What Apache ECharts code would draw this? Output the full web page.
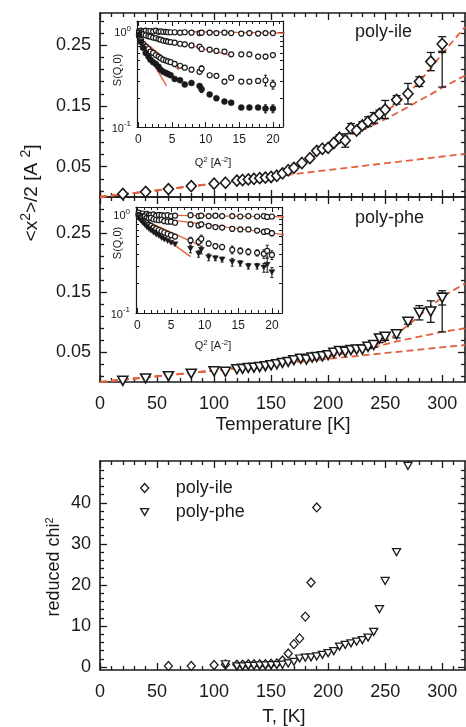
<!DOCTYPE html>
<html>
<head>
<meta charset="utf-8">
<script src="https://cdn.jsdelivr.net/npm/echarts@6.0.0/dist/echarts.min.js"></script>
<style>
html,body{margin:0;padding:0;background:#ffffff;}
#chart{width:466px;height:727px;}
</style>
</head>
<body>
<div id="chart"></div>
<script>
// ================= DATA =================
// tick values
const tempTicks = [0,50,100,150,200,250,300];
const tempMinor = [10,20,30,40,60,70,80,90,110,120,130,140,160,170,180,190,210,220,230,240,260,270,280,290,310];
const msdTicks = [0.05,0.15,0.25];
const msdMinor = [0.01,0.03,0.07,0.09,0.11,0.13,0.17,0.19,0.21,0.23,0.27,0.29];
const chiTicks = [0,10,20,30,40];
const chiMinor = [2,4,6,8,12,14,16,18,22,24,26,28,32,34,36,38,42,44,46,48];
const q2Ticks = [0,5,10,15,20];
const q2Minor = [1,2,3,4,6,7,8,9,11,12,13,14,16,17,18,19,21];
const sDecades = [0.1,1];
const sMinor = [0.2,0.3,0.4,0.5,0.6,0.7,0.8,0.9];

// poly-ile  <x^2>/2 vs T
const T_ile   = [20,40,60,80,100,110,120,125,130,135,140,145,150,155,160,165,170,177,184,190,195,200,205,210,215,220,225,230,235,240,245,250,260,270,280,290,300];
const msd_ile = [0.005,0.0085,0.013,0.018,0.022,0.0235,0.027,0.028,0.029,0.030,0.031,0.032,0.033,0.035,0.039,0.044,0.048,0.056,0.064,0.076,0.0795,0.081,0.089,0.0975,0.093,0.113,0.1095,0.118,0.124,0.130,0.137,0.144,0.160,0.170,0.190,0.223,0.252];
const err_ile = [0,0,0,0,0,0,0,0,0,0,0,0,0,0,0,0,0,0,0,0.003,0.003,0.003,0.003,0.005,0.011,0.008,0.005,0.006,0.008,0.009,0.006,0.015,0.007,0.017,0.008,0.015,0.012];
// poly-phe  <x^2>/2 vs T
const T_phe   = [20,40,60,80,100,110,120,125,130,135,140,145,150,155,160,165,170,176,181,186,190,195,200,205,210,215,220,225,230,235,240,245,250,260,270,280,290,300];
const msd_phe = [0.002,0.006,0.0097,0.014,0.018,0.017,0.0214,0.022,0.0236,0.024,0.025,0.0265,0.028,0.0298,0.032,0.0337,0.0366,0.039,0.0377,0.041,0.042,0.043,0.045,0.049,0.052,0.0505,0.0534,0.0545,0.0545,0.059,0.062,0.073,0.0757,0.080,0.101,0.116,0.118,0.141];
const err_phe = [0,0,0,0,0,0,0,0,0,0,0,0,0,0,0,0,0,0,0,0,0,0,0,0,0,0,0,0,0,0.003,0.004,0.007,0.006,0.006,0.004,0.012,0.018,0.012];

// fit curves (dashed)
const fitT_ile_a = [0,50,100,150,160,170,180,190,200,210,220,230,240,250,260,270,280,290,300,310,320];
const fit_ile_a  = [0,0.011,0.022,0.034,0.039,0.046,0.057,0.070,0.083,0.095,0.106,0.117,0.128,0.140,0.154,0.170,0.190,0.212,0.236,0.258,0.280];
const fitT_ile_b = [0,50,100,150,160,170,180,190,200,210,220,230,240,250,260,270,280,290,300,310,320];
const fit_ile_b  = [0,0.011,0.022,0.034,0.039,0.046,0.057,0.070,0.083,0.093,0.102,0.111,0.119,0.128,0.138,0.148,0.159,0.169,0.180,0.190,0.200];
const fitT_ile_c = [0,320];
const fit_ile_c  = [0,0.071];
const fitT_phe_a = [0,50,100,150,200,220,240,250,260,270,280,290,300,310,320];
const fit_phe_a  = [0,0.0095,0.019,0.029,0.043,0.051,0.061,0.069,0.080,0.095,0.111,0.127,0.142,0.154,0.165];
const fitT_phe_b = [0,50,100,150,200,220,240,250,260,270,280,290,300,310,320];
const fit_phe_b  = [0,0.0095,0.019,0.029,0.043,0.050,0.058,0.063,0.068,0.072,0.076,0.080,0.084,0.087,0.090];
const fitT_phe_c = [0,320];
const fit_phe_c  = [0,0.062];
// spread bars at 300 K : [T, low, high]
const spread_ile = [300,0.181,0.238];
const spread_phe = [300,0.084,0.149];

// inset poly-ile S(Q,0) vs Q^2
const Q2_ile = [0.1,0.4,0.7,1.1,1.5,1.8,2.2,2.6,3.0,3.3,3.7,4.1,4.4,4.8,5.4,6.2,6.9,7.9,9.1,9.4,10.6,11.6,12.8,13.8,15.3,16.5,17.8,18.9,20.0];
const S_ile1 = [1.02,1.03,1.01,1.03,1.02,1.02,1.01,1.03,1.00,1.01,1.00,1.00,0.99,0.99,0.99,0.98,0.99,0.98,0.97,0.98,0.98,0.97,0.98,0.97,0.96,0.97,0.96,0.97,0.97];
const S_ile2 = [0.98,0.96,0.94,0.92,0.90,0.89,0.87,0.86,0.84,0.83,0.81,0.80,0.79,0.78,0.77,0.75,0.74,0.72,0.70,0.66,0.65,0.63,0.62,0.58,0.58,0.58,0.55,0.55,0.57];
const S_ile3 = [0.90,0.82,0.75,0.70,0.66,0.62,0.60,0.57,0.55,0.53,0.51,0.50,0.49,0.48,0.46,0.44,0.42,0.40,0.38,0.41,0.35,0.345,0.30,0.33,0.30,0.30,0.305,0.31,0.28];
const S_ile4 = [0.93,0.78,0.68,0.60,0.55,0.51,0.48,0.46,0.43,0.40,0.38,0.37,0.36,0.35,0.32,0.31,0.28,0.29,0.27,0.25,0.22,0.20,0.185,0.18,0.16,0.16,0.16,0.156,0.156];
const eS_ile2 = [0,0,0,0,0,0,0,0,0,0,0,0,0,0,0,0,0,0,0,0,0,0,0,0,0,0,0,0.03,0];
const eS_ile3 = [0,0,0,0,0,0,0,0,0,0,0,0,0,0,0,0,0,0,0,0.03,0,0,0,0,0,0,0,0.04,0.03];
const eS_ile4 = [0,0,0,0,0,0,0,0,0,0,0,0,0,0,0,0,0,0,0,0.02,0,0,0,0,0,0,0,0.015,0.015];
const fitQ_ile = [[0,22],[0,14],[0,6],[0,4.2]];
const fitS_ile = [[1.02,0.97],[0.98,0.56],[0.88,0.40],[0.85,0.27]];

// inset poly-phe S(Q,0) vs Q^2
const Q2_phe = [0.2,0.5,0.8,1.1,1.4,1.7,2.0,2.4,2.8,3.2,3.6,4.0,4.5,5.0,5.6,7.9,9.1,9.5,10.6,11.6,12.6,14.1,15.3,16.5,17.8,18.8,19.3,20.0];
const S_phe1 = [1.05,1.0,1.03,0.98,1.02,0.99,1.0,1.01,0.98,1.0,0.99,0.98,0.99,0.97,0.98,0.99,0.97,0.98,0.97,0.98,0.97,0.97,0.96,0.97,0.96,0.97,0.95,0.96];
const S_phe2 = [1.0,0.97,0.95,0.96,0.93,0.92,0.93,0.9,0.89,0.88,0.89,0.86,0.85,0.85,0.83,0.80,0.78,0.80,0.77,0.75,0.74,0.72,0.71,0.71,0.69,0.67,0.68,0.65];
const S_phe3 = [0.98,0.92,0.88,0.85,0.82,0.79,0.77,0.74,0.72,0.70,0.68,0.66,0.64,0.62,0.60,0.55,0.53,0.57,0.51,0.48,0.47,0.44,0.43,0.42,0.41,0.40,0.43,0.39];
const S_phe4 = [0.95,0.88,0.83,0.79,0.75,0.72,0.69,0.66,0.63,0.61,0.58,0.56,0.54,0.52,0.50,0.45,0.40,0.44,0.37,0.36,0.35,0.33,0.32,0.30,0.30,0.29,0.31,0.26];
const eS_phe1 = [0,0,0,0,0,0,0,0,0,0,0,0,0,0,0,0.03,0.03,0.03,0.03,0.03,0.03,0.03,0.03,0.03,0.03,0.04,0.04,0.04];
const eS_phe2 = [0,0,0,0,0,0,0,0,0,0,0,0,0,0,0,0.04,0.04,0.04,0.03,0.03,0.03,0.04,0.03,0.03,0.03,0.04,0.04,0.04];
const eS_phe3 = [0,0,0,0,0,0,0,0,0,0,0,0,0,0,0,0.04,0.04,0.05,0.03,0.03,0.03,0.04,0.03,0.03,0.03,0.04,0.06,0.04];
const eS_phe4 = [0,0,0,0,0,0,0,0,0,0,0,0,0,0,0,0.04,0.03,0.04,0.03,0.02,0.02,0.03,0.02,0.02,0.02,0.03,0.05,0.03];
const fitQ_phe = [[0,22],[0,22],[0,9.2],[0,7.9]];
const fitS_phe = [[1.0,0.95],[0.98,0.625],[0.95,0.49],[0.92,0.375]];

// reduced chi^2 vs T
const Tchi_ile = [60,80,100,110,120,125,130,135,140,145,150,155,160,165,170,175,180,185,190];
const chi_ile  = [0.3,0.3,0.5,0.65,0.6,0.6,0.7,0.7,0.7,0.7,0.8,0.9,1.6,3.3,5.6,7.0,12.3,20.6,38.9];
const Tchi_phe = [110,120,125,130,135,140,145,150,155,160,165,170,175,180,185,190,195,200,205,210,215,220,225,230,235,240,245,250,260,270];
const chi_phe  = [0.7,0.2,0.2,0.3,0.3,0.4,0.4,0.5,0.5,0.6,0.9,1.3,2.1,2.3,2.4,2.6,3.0,3.4,3.9,5.0,5.4,5.8,6.2,6.6,7.2,8.6,14.1,21.0,28.0,49.0];

// ================= CHART =================
const FONT = '"Liberation Sans", Arial, Helvetica, sans-serif';
const INK = '#1a1a1a';
const ORANGE = '#e2603e';

const grids = [
  {left:100, top:13,  width:365, height:184},
  {left:100, top:197, width:365, height:185},
  {left:100, top:461, width:365, height:209},
  {left:137, top:21,  width:146, height:106},
  {left:136, top:207, width:146, height:106}
];

const xAxes = [], yAxes = [];
function ax(list, g, pos, o, major) {
  const a = {
    gridIndex: g, type: 'value', min: o.min, max: o.max, position: pos, silent: true,
    axisLine: {show: major && o.line !== false, onZero: false, lineStyle: {color: INK, width: o.lw}},
    axisTick: {show: true, inside: true, length: major ? o.majLen : o.minLen,
               customValues: major ? o.majors : o.minors, lineStyle: {color: INK, width: o.tw}},
    axisLabel: {show: false},
    splitLine: {show: false}
  };
  if (major && o.labels && (pos === 'bottom' || pos === 'left')) {
    a.axisLabel = {show: true, customValues: o.labels, formatter: o.fmt, fontSize: o.fs,
                   color: INK, fontFamily: FONT, margin: o.margin};
    if (o.rich) a.axisLabel.rich = o.rich;
  }
  list.push(a);
  return list.length - 1;
}
function frame(dim, g, o) {
  const list = dim === 'x' ? xAxes : yAxes;
  const sides = dim === 'x' ? ['bottom','top'] : ['left','right'];
  let prim = -1;
  sides.forEach(s => { const i = ax(list, g, s, o, true); if (prim < 0) prim = i; ax(list, g, s, o, false); });
  return prim;
}
function logFrame(g, o) {
  const prim = yAxes.length;
  ['left','right'].forEach(s => yAxes.push({
    gridIndex: g, type: 'log', logBase: 10, min: o.smin, max: o.smax, position: s, silent: true,
    axisLine: {show: true, onZero: false, lineStyle: {color: INK, width: o.lw}},
    axisTick: {show: false}, axisLabel: {show: false}, splitLine: {show: false}, minorTick: {show: false}
  }));
  const lo = Object.assign({}, o, {
    min: Math.log10(o.smin), max: Math.log10(o.smax),
    majors: sDecades.map(v => Math.log10(v)), minors: sMinor.map(v => Math.log10(v)),
    labels: sDecades.map(v => Math.log10(v)), line: false
  });
  ['left','right'].forEach(s => { ax(yAxes, g, s, lo, true); ax(yAxes, g, s, lo, false); });
  return prim;
}

const mainX = {min:0, max:320, majors:tempTicks, minors:tempMinor, majLen:7, minLen:4, lw:1.6, tw:1.3,
               fs:18, margin:13, fmt: v => String(Math.round(v))};
const x0 = frame('x', 0, Object.assign({}, mainX, {labels:null}));
const x1 = frame('x', 1, Object.assign({}, mainX, {labels:tempTicks}));
const x2 = frame('x', 2, Object.assign({}, mainX, {labels:tempTicks}));
const insetX = {min:-0.2, max:21.5, majors:q2Ticks, minors:q2Minor, labels:q2Ticks, majLen:5, minLen:3,
                lw:1.2, tw:1, fs:12, margin:7, fmt: v => String(Math.round(v))};
const x3 = frame('x', 3, insetX);
const x4 = frame('x', 4, insetX);

const msdY = {majors:msdTicks, minors:msdMinor, labels:msdTicks, majLen:7, minLen:4, lw:1.6, tw:1.3,
              fs:18, margin:9, fmt: v => v.toFixed(2)};
const y0 = frame('y', 0, Object.assign({}, msdY, {min:0, max:0.303}));
const y1 = frame('y', 1, Object.assign({}, msdY, {min:0, max:0.31}));
const y2 = frame('y', 2, {min:-0.7, max:50.2, majors:chiTicks, minors:chiMinor, labels:chiTicks, majLen:7, minLen:4,
                          lw:1.6, tw:1.3, fs:18, margin:9, fmt: v => String(Math.round(v))});
const insetRich = {b:{fontSize:11, fontFamily:FONT, color:INK, verticalAlign:'bottom'},
                   s:{fontSize:8, fontFamily:FONT, color:INK, verticalAlign:'bottom', padding:[0,0,6,0]}};
const insetY = {majLen:5, minLen:3, lw:1.2, tw:1, fs:11, margin:6, rich:insetRich,
                fmt: v => '{b|10}{s|' + (Math.round(v) === 0 ? '0' : Math.round(v)) + '}'};
const y3 = logFrame(3, Object.assign({}, insetY, {smin:0.1, smax:1.3}));
const y4 = logFrame(4, Object.assign({}, insetY, {smin:0.1, smax:1.2}));

// ---------- series ----------
const series = [];
function pts(xs, ys) { return xs.map((x, i) => [x, ys[i]]); }
function errData(xs, ys, es) {
  const d = [];
  xs.forEach((x, i) => { if (es[i] > 0) d.push([x, ys[i] - es[i], ys[i] + es[i]]); });
  return d;
}
function errSeries(xi, yi, data, cap, lw) {
  series.push({
    type: 'custom', xAxisIndex: xi, yAxisIndex: yi, z: 3, silent: true, data: data,
    encode: {x: 0, y: [1, 2]},
    renderItem: function (p, api) {
      const x = api.value(0);
      const a = api.coord([x, api.value(1)]), b = api.coord([x, api.value(2)]);
      const st = {stroke: INK, lineWidth: lw};
      return {type: 'group', children: [
        {type: 'line', shape: {x1: a[0], y1: a[1], x2: b[0], y2: b[1]}, style: st},
        {type: 'line', shape: {x1: a[0] - cap, y1: a[1], x2: a[0] + cap, y2: a[1]}, style: st},
        {type: 'line', shape: {x1: b[0] - cap, y1: b[1], x2: b[0] + cap, y2: b[1]}, style: st}
      ]};
    }
  });
}
function scat(name, xi, yi, data, sym, size, rot, fill, bw) {
  series.push({
    type: 'scatter', name: name, xAxisIndex: xi, yAxisIndex: yi, z: 4, data: data,
    symbol: sym, symbolSize: size, symbolRotate: rot, silent: true,
    itemStyle: {color: fill, borderColor: INK, borderWidth: bw, opacity: 1},
    emphasis: {disabled: true}
  });
}
function fitLine(xi, yi, data, dashed, lw) {
  series.push({
    type: 'line', xAxisIndex: xi, yAxisIndex: yi, z: 2, data: data, symbol: 'none', showSymbol: false,
    silent: true, clip: true, emphasis: {disabled: true},
    lineStyle: {color: ORANGE, width: lw, type: dashed ? [7, 4] : 'solid'}
  });
}

// top panel: poly-ile
fitLine(x0, y0, pts(fitT_ile_a, fit_ile_a), true, 1.8);
fitLine(x0, y0, pts(fitT_ile_b, fit_ile_b), true, 1.8);
fitLine(x0, y0, pts(fitT_ile_c, fit_ile_c), true, 1.8);
errSeries(x0, y0, errData(T_ile, msd_ile, err_ile), 4, 1.3);
errSeries(x0, y0, [spread_ile], 4, 1.3);
scat('ile msd', x0, y0, pts(T_ile, msd_ile), 'diamond', [10, 11], 0, '#ffffff', 1.6);

// middle panel: poly-phe
fitLine(x1, y1, pts(fitT_phe_a, fit_phe_a), true, 1.8);
fitLine(x1, y1, pts(fitT_phe_b, fit_phe_b), true, 1.8);
fitLine(x1, y1, pts(fitT_phe_c, fit_phe_c), true, 1.8);
errSeries(x1, y1, errData(T_phe, msd_phe, err_phe), 4, 1.3);
errSeries(x1, y1, [spread_phe], 4, 1.3);
scat('phe msd', x1, y1, pts(T_phe, msd_phe), 'triangle', [10, 9], 180, '#ffffff', 1.6);

// bottom panel: reduced chi^2
scat('poly-ile', x2, y2, pts(Tchi_ile, chi_ile), 'diamond', [8, 9], 0, '#ffffff', 1.3);
scat('poly-phe', x2, y2, pts(Tchi_phe, chi_phe), 'triangle', [8, 7], 180, '#ffffff', 1.3);

// inset poly-ile
fitQ_ile.forEach((q, i) => fitLine(x3, y3, pts(q, fitS_ile[i]), false, 1.3));
errSeries(x3, y3, errData(Q2_ile, S_ile2, eS_ile2), 1.5, 1);
errSeries(x3, y3, errData(Q2_ile, S_ile3, eS_ile3), 1.5, 1);
errSeries(x3, y3, errData(Q2_ile, S_ile4, eS_ile4), 1.5, 1);
[S_ile1, S_ile2, S_ile3].forEach(s => scat('', x3, y3, pts(Q2_ile, s), 'circle', 5, 0, '#ffffff', 1.2));
scat('', x3, y3, pts(Q2_ile, S_ile4), 'circle', 6, 0, INK, 0.5);

// inset poly-phe
fitQ_phe.forEach((q, i) => fitLine(x4, y4, pts(q, fitS_phe[i]), false, 1.3));
[[S_phe1, eS_phe1], [S_phe2, eS_phe2], [S_phe3, eS_phe3], [S_phe4, eS_phe4]].forEach(p =>
  errSeries(x4, y4, errData(Q2_phe, p[0], p[1]), 1.5, 1));
[S_phe1, S_phe2, S_phe3].forEach(s => scat('', x4, y4, pts(Q2_phe, s), 'circle', 5, 0, '#ffffff', 1.2));
scat('', x4, y4, pts(Q2_phe, S_phe4), 'triangle', [6, 5], 180, INK, 0.5);

// ---------- texts ----------
function txt(x, y, text, size, rot, align, rich) {
  const st = {text: text, fill: INK, fontSize: size, fontFamily: FONT, align: align || 'center', verticalAlign: 'middle'};
  if (rich) st.rich = rich;
  return {type: 'text', x: x, y: y, rotation: rot || 0, silent: true, z: 100, style: st};
}
const supRich = (big, small, lift) => ({
  a: {fontSize: big, fontFamily: FONT, fill: INK, verticalAlign: 'bottom'},
  s: {fontSize: small, fontFamily: FONT, fill: INK, verticalAlign: 'bottom', padding: [0, 0, lift, 0]}
});
const graphic = [
  txt(30, 193, '{a|<x}{s|2}{a|>/2 [A }{s|2}{a|]}', 18, Math.PI / 2, 'center', supRich(19, 14, 8)),
  txt(283, 425, 'Temperature [K]', 19),
  txt(284, 717, 'T, [K]', 19),
  txt(54, 567, '{a|reduced chi}{s|2}', 18, Math.PI / 2, 'center', supRich(18, 11, 8)),
  txt(355, 32, 'poly-ile', 18, 0, 'left'),
  txt(355, 218, 'poly-phe', 18, 0, 'left'),
  txt(118, 70, 'S(Q,0)', 11, Math.PI / 2),
  txt(118, 243, 'S(Q,0)', 11, Math.PI / 2),
  txt(213, 162, '{a|Q}{s|2}{a| [A}{s|-2}{a|]}', 11, 0, 'center', supRich(11, 8, 5)),
  txt(213, 345, '{a|Q}{s|2}{a| [A}{s|-2}{a|]}', 11, 0, 'center', supRich(11, 8, 5))
];

const chart = echarts.init(document.getElementById('chart'), null, {renderer: 'canvas'});
chart.setOption({
  animation: false,
  backgroundColor: '#ffffff',
  textStyle: {fontFamily: FONT},
  grid: grids,
  xAxis: xAxes,
  yAxis: yAxes,
  legend: {
    data: [
      {name: 'poly-ile', icon: 'diamond'},
      {name: 'poly-phe', icon: 'path://M0,0L10,0L5,8.5Z'}
    ],
    orient: 'vertical', left: 135, top: 474,
    itemWidth: 8, itemHeight: 9, itemGap: 6, selectedMode: false,
    itemStyle: {color: '#ffffff', borderColor: INK, borderWidth: 1.3},
    textStyle: {fontSize: 18, color: INK, fontFamily: FONT, padding: [0, 0, 0, 22]}
  },
  graphic: graphic,
  series: series
});
</script>
</body>
</html>
